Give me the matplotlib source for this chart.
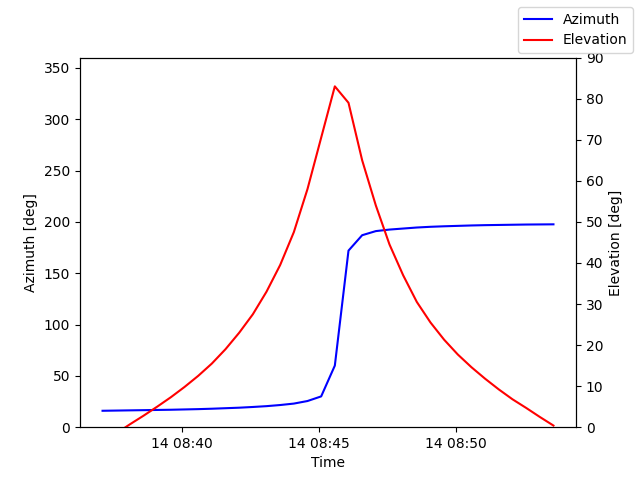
import matplotlib
matplotlib.use("Agg")
import matplotlib.pyplot as plt
import matplotlib.dates as mdates
import pandas as pd

times = pd.date_range("2024-01-14 08:37:05", periods=34, freq="30s")
azimuth = [16, 16.2, 16.4, 16.6, 16.8, 17.0, 17.3, 17.6, 18.0, 18.5, 19.0, 19.7, 20.5, 21.6, 23.0, 25.5, 30, 60, 172, 187, 191, 192.5, 193.5, 194.5, 195.2, 195.7, 196.1, 196.5, 196.8, 197.0, 197.2, 197.4, 197.5, 197.6]
elevation = [-3.5, -1.5, 0.7, 2.8, 5.0, 7.3, 9.8, 12.5, 15.5, 19, 23, 27.5, 33, 39.5, 47.5, 58, 70.5, 83, 79, 65, 54, 44.5, 37, 30.5, 25.5, 21.3, 17.7, 14.6, 11.8, 9.2, 6.8, 4.7, 2.5, 0.4]

fig, ax = plt.subplots(figsize=(6.4, 4.8), dpi=100)
ax2 = ax.twinx()
ax.plot(times, azimuth, color="blue", label="Azimuth")
ax2.plot(times, elevation, color="red", label="Elevation")
ax.set_ylim(0, 360)
ax2.set_ylim(0, 90)
ax.set_ylabel("Azimuth [deg]")
ax2.set_ylabel("Elevation [deg]")
ax.set_xlabel("Time")
ax.xaxis.set_major_locator(mdates.MinuteLocator(byminute=[40, 45, 50]))
ax.xaxis.set_major_formatter(mdates.DateFormatter("%d %H:%M"))
fig.legend(loc="upper right")
fig.savefig("out.png")
